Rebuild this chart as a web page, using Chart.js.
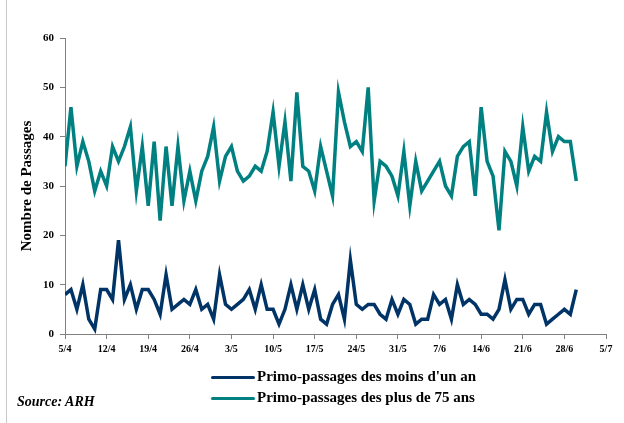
<!DOCTYPE html>
<html>
<head>
<meta charset="utf-8">
<script src="https://cdn.jsdelivr.net/npm/chart.js@4/dist/chart.umd.min.js"></script>
<style>
  html, body { margin: 0; padding: 0; background: #fff; }
  #wrap { position: relative; width: 624px; height: 423px; overflow: hidden; }
  #frame { position: absolute; left: 6px; top: 0; width: 1px; height: 423px; background: #c8c8c8; }
  .leg { position: absolute; left: 211px; font: bold 15px "Liberation Serif", serif; color: #000; white-space: nowrap; }
  .leg span { display: inline-block; width: 44px; height: 3px; vertical-align: middle; margin-right: 2px; border-radius: 2px; }
  #source { position: absolute; left: 17px; top: 394px; font: italic bold 14px "Liberation Serif", serif; }
</style>
</head>
<body>
<div id="wrap">
  <canvas id="c" width="624" height="423"></canvas>
  <div id="frame"></div>
  <div class="leg" style="top:368px"><span style="background:#003366"></span>Primo-passages des moins d'un an</div>
  <div class="leg" style="top:389px"><span style="background:#008080"></span>Primo-passages des plus de 75 ans</div>
  <div id="source">Source: ARH</div>
</div>
<script>
'use strict';

// one value per day, from 5/4 to 30/6
var moinsUnAn = [8, 9, 5, 10, 3, 1, 9, 9, 7, 19, 7, 10, 5, 9, 9, 7, 4, 12,
  5, 6, 7, 6, 9, 5, 6, 3, 12, 6, 5, 6, 7, 9, 5, 10, 5, 5,
  2, 5, 10, 5, 10, 5, 9, 3, 2, 6, 8, 3, 15, 6, 5, 6, 6, 4, 3,
  7, 4, 7, 6, 2, 3, 3, 8, 6, 7, 3, 10, 6, 7, 6, 4, 4, 3,
  5, 11, 5, 7, 7, 4, 6, 6, 2, 3, 4, 5, 4, 9];

var plus75 = [34, 46, 34, 39, 35, 29, 33, 30, 38, 35, 38, 42, 29, 38, 26, 39, 23, 38,
  26, 38, 27, 33, 27, 33, 36, 42, 31, 36, 38, 33, 31, 32, 34, 33, 37, 45,
  34, 43, 31, 49, 34, 33, 29, 38, 33, 28, 49, 43, 38, 39, 37, 50, 27, 35, 34,
  32, 28, 37, 26, 35, 29, 31, 33, 35, 30, 28, 36, 38, 39, 28, 46, 35, 32,
  21, 37, 35, 30, 42, 33, 36, 35, 45, 37, 40, 39, 39, 31];

// week ticks, every 7 days
var tickLabels = ['5/4', '12/4', '19/4', '26/4', '3/5', '10/5', '17/5',
  '24/5', '31/5', '7/6', '14/6', '21/6', '28/6', '5/7'];

function points(values) {
  return values.map(function (v, i) { return { x: i, y: v }; });
}

var axisColor = '#808080';
var tickFont = { family: 'Liberation Serif', weight: 'bold', size: 11 };

var chart = new Chart(document.getElementById('c').getContext('2d'), {
  type: 'line',
  data: {
    datasets: [
      { label: "Primo-passages des moins d'un an", data: points(moinsUnAn),
        borderColor: '#003366', borderWidth: 3.5, pointRadius: 0, tension: 0 },
      { label: 'Primo-passages des plus de 75 ans', data: points(plus75),
        borderColor: '#008080', borderWidth: 3.5, pointRadius: 0, tension: 0 }
    ]
  },
  options: {
    responsive: false,
    animation: false,
    layout: { padding: { top: 38, right: 18, left: 0, bottom: 0 } },
    plugins: { legend: { display: false }, tooltip: { enabled: false } },
    scales: {
      x: {
        type: 'linear', min: 0, max: (tickLabels.length - 1) * 7,
        afterFit: function (s) { s.height = 89; },
        afterBuildTicks: function (s) {
          s.ticks = tickLabels.map(function (t, i) { return { value: i * 7 }; });
        },
        border: { color: axisColor, width: 1 },
        grid: { drawOnChartArea: false, color: axisColor, tickLength: 5 },
        ticks: {
          color: '#000', font: { family: 'Liberation Serif', weight: 'bold', size: 10 },
          maxRotation: 0, autoSkip: false, padding: 4,
          callback: function (v) { return tickLabels[v / 7]; }
        }
      },
      y: {
        min: 0, max: 60,
        afterFit: function (s) { s.width = 65; },
        border: { color: axisColor, width: 1 },
        grid: { drawOnChartArea: false, color: axisColor, tickLength: 5 },
        ticks: { stepSize: 10, color: '#000', font: tickFont, padding: 6 },
        title: {
          display: true, text: 'Nombre de Passages', color: '#000',
          font: { family: 'Liberation Serif', weight: 'bold', size: 15 },
          padding: { top: 18, bottom: 6 }
        }
      }
    }
  }
});
</script>
</body>
</html>
